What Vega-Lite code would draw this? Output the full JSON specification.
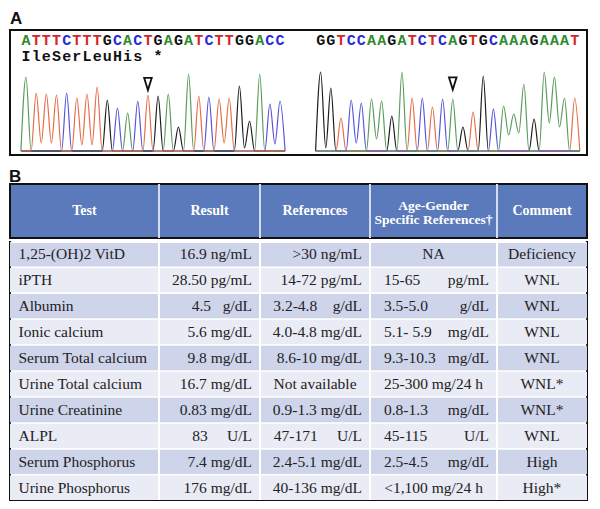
{
  "$schema": "https://vega.github.io/schema/vega-lite/v6.json",
  "background": "white",
  "padding": {"left": 9, "top": 9, "right": 12, "bottom": 4},
  "config": {
    "view": {"stroke": null},
    "title": {"font": "Liberation Sans", "fontWeight": "bold", "fontSize": 17, "anchor": "start", "color": "#111111", "offset": -2}
  },
  "datasets": {
    "traces": [
      {"s":"L","ch":"A","pos":-0.5,"h":0},{"s":"L","ch":"A","pos":0,"h":74},{"s":"L","ch":"A","pos":0.5,"h":0},{"s":"L","ch":"A","pos":9.5,"h":0},{"s":"L","ch":"A","pos":10,"h":38},{"s":"L","ch":"A","pos":10.5,"h":0},{"s":"L","ch":"A","pos":13.5,"h":0},{"s":"L","ch":"A","pos":14,"h":57},{"s":"L","ch":"A","pos":14.5,"h":0},{"s":"L","ch":"A","pos":15.5,"h":0},{"s":"L","ch":"A","pos":16,"h":77},{"s":"L","ch":"A","pos":16.5,"h":0},{"s":"L","ch":"A","pos":22.5,"h":0},{"s":"L","ch":"A","pos":23,"h":77},{"s":"L","ch":"A","pos":23.5,"h":0},{"s":"L","ch":"A","pos":25.5,"h":0},
      {"s":"L","ch":"C","pos":-0.5,"h":0},{"s":"L","ch":"C","pos":3.5,"h":0},{"s":"L","ch":"C","pos":4,"h":58},{"s":"L","ch":"C","pos":4.5,"h":0},{"s":"L","ch":"C","pos":8.5,"h":0},{"s":"L","ch":"C","pos":9,"h":43},{"s":"L","ch":"C","pos":9.5,"h":0},{"s":"L","ch":"C","pos":10.5,"h":0},{"s":"L","ch":"C","pos":11,"h":50},{"s":"L","ch":"C","pos":11.5,"h":0},{"s":"L","ch":"C","pos":17.5,"h":0},{"s":"L","ch":"C","pos":18,"h":54},{"s":"L","ch":"C","pos":18.5,"h":0},{"s":"L","ch":"C","pos":23.5,"h":0},{"s":"L","ch":"C","pos":24,"h":47},{"s":"L","ch":"C","pos":24.5,"h":7},{"s":"L","ch":"C","pos":25,"h":50},{"s":"L","ch":"C","pos":25.5,"h":0},
      {"s":"L","ch":"G","pos":-0.5,"h":0},{"s":"L","ch":"G","pos":7.5,"h":0},{"s":"L","ch":"G","pos":8,"h":51},{"s":"L","ch":"G","pos":8.5,"h":0},{"s":"L","ch":"G","pos":12.5,"h":0},{"s":"L","ch":"G","pos":13,"h":55},{"s":"L","ch":"G","pos":13.5,"h":0},{"s":"L","ch":"G","pos":14.5,"h":0},{"s":"L","ch":"G","pos":15,"h":24},{"s":"L","ch":"G","pos":15.5,"h":0},{"s":"L","ch":"G","pos":20.5,"h":0},{"s":"L","ch":"G","pos":21,"h":65},{"s":"L","ch":"G","pos":21.5,"h":3},{"s":"L","ch":"G","pos":22,"h":30},{"s":"L","ch":"G","pos":22.5,"h":0},{"s":"L","ch":"G","pos":25.5,"h":0},
      {"s":"L","ch":"T","pos":-0.5,"h":0},{"s":"L","ch":"T","pos":0.5,"h":0},{"s":"L","ch":"T","pos":1,"h":58},{"s":"L","ch":"T","pos":1.5,"h":8},{"s":"L","ch":"T","pos":2,"h":57},{"s":"L","ch":"T","pos":2.5,"h":8},{"s":"L","ch":"T","pos":3,"h":56},{"s":"L","ch":"T","pos":3.5,"h":0},{"s":"L","ch":"T","pos":4.5,"h":0},{"s":"L","ch":"T","pos":5,"h":53},{"s":"L","ch":"T","pos":5.5,"h":6},{"s":"L","ch":"T","pos":6,"h":57},{"s":"L","ch":"T","pos":6.5,"h":6},{"s":"L","ch":"T","pos":7,"h":64},{"s":"L","ch":"T","pos":7.5,"h":0},{"s":"L","ch":"T","pos":11.5,"h":0},{"s":"L","ch":"T","pos":12,"h":56},{"s":"L","ch":"T","pos":12.5,"h":0},{"s":"L","ch":"T","pos":16.5,"h":0},{"s":"L","ch":"T","pos":17,"h":55},{"s":"L","ch":"T","pos":17.5,"h":0},{"s":"L","ch":"T","pos":18.5,"h":0},{"s":"L","ch":"T","pos":19,"h":52},{"s":"L","ch":"T","pos":19.5,"h":8},{"s":"L","ch":"T","pos":20,"h":53},{"s":"L","ch":"T","pos":20.5,"h":0},{"s":"L","ch":"T","pos":25.5,"h":0},
      {"s":"R","ch":"G","pos":28.5,"h":0},{"s":"R","ch":"G","pos":29,"h":79},{"s":"R","ch":"G","pos":29.5,"h":3},{"s":"R","ch":"G","pos":30,"h":63},{"s":"R","ch":"G","pos":30.5,"h":0},{"s":"R","ch":"G","pos":35.5,"h":0},{"s":"R","ch":"G","pos":36,"h":35},{"s":"R","ch":"G","pos":36.5,"h":0},{"s":"R","ch":"G","pos":42.5,"h":0},{"s":"R","ch":"G","pos":43,"h":24},{"s":"R","ch":"G","pos":43.5,"h":0},{"s":"R","ch":"G","pos":44.5,"h":0},{"s":"R","ch":"G","pos":45,"h":75},{"s":"R","ch":"G","pos":45.5,"h":0},{"s":"R","ch":"G","pos":49.5,"h":0},{"s":"R","ch":"G","pos":50,"h":32},{"s":"R","ch":"G","pos":50.5,"h":0},{"s":"R","ch":"G","pos":54.5,"h":0},
      {"s":"R","ch":"T","pos":28.5,"h":0},{"s":"R","ch":"T","pos":30.5,"h":0},{"s":"R","ch":"T","pos":31,"h":33},{"s":"R","ch":"T","pos":31.5,"h":0},{"s":"R","ch":"T","pos":37.5,"h":0},{"s":"R","ch":"T","pos":38,"h":53},{"s":"R","ch":"T","pos":38.5,"h":0},{"s":"R","ch":"T","pos":39.5,"h":0},{"s":"R","ch":"T","pos":40,"h":44},{"s":"R","ch":"T","pos":40.5,"h":0},{"s":"R","ch":"T","pos":43.5,"h":0},{"s":"R","ch":"T","pos":44,"h":39},{"s":"R","ch":"T","pos":44.5,"h":0},{"s":"R","ch":"T","pos":53.5,"h":0},{"s":"R","ch":"T","pos":54,"h":53},{"s":"R","ch":"T","pos":54.5,"h":0},
      {"s":"R","ch":"C","pos":28.5,"h":0},{"s":"R","ch":"C","pos":31.5,"h":0},{"s":"R","ch":"C","pos":32,"h":51},{"s":"R","ch":"C","pos":32.5,"h":8},{"s":"R","ch":"C","pos":33,"h":48},{"s":"R","ch":"C","pos":33.5,"h":0},{"s":"R","ch":"C","pos":38.5,"h":0},{"s":"R","ch":"C","pos":39,"h":53},{"s":"R","ch":"C","pos":39.5,"h":0},{"s":"R","ch":"C","pos":40.5,"h":0},{"s":"R","ch":"C","pos":41,"h":52},{"s":"R","ch":"C","pos":41.5,"h":0},{"s":"R","ch":"C","pos":45.5,"h":0},{"s":"R","ch":"C","pos":46,"h":42},{"s":"R","ch":"C","pos":46.5,"h":0},{"s":"R","ch":"C","pos":54.5,"h":0},
      {"s":"R","ch":"A","pos":28.5,"h":0},{"s":"R","ch":"A","pos":33.5,"h":0},{"s":"R","ch":"A","pos":34,"h":52},{"s":"R","ch":"A","pos":34.5,"h":12},{"s":"R","ch":"A","pos":35,"h":50},{"s":"R","ch":"A","pos":35.5,"h":0},{"s":"R","ch":"A","pos":36.5,"h":0},{"s":"R","ch":"A","pos":37,"h":79},{"s":"R","ch":"A","pos":37.5,"h":0},{"s":"R","ch":"A","pos":41.5,"h":0},{"s":"R","ch":"A","pos":42,"h":52},{"s":"R","ch":"A","pos":42.5,"h":0},{"s":"R","ch":"A","pos":46.5,"h":0},{"s":"R","ch":"A","pos":47,"h":45},{"s":"R","ch":"A","pos":47.5,"h":16},{"s":"R","ch":"A","pos":48,"h":37},{"s":"R","ch":"A","pos":48.5,"h":18},{"s":"R","ch":"A","pos":49,"h":67},{"s":"R","ch":"A","pos":49.5,"h":0},{"s":"R","ch":"A","pos":50.5,"h":0},{"s":"R","ch":"A","pos":51,"h":79},{"s":"R","ch":"A","pos":51.5,"h":28},{"s":"R","ch":"A","pos":52,"h":74},{"s":"R","ch":"A","pos":52.5,"h":24},{"s":"R","ch":"A","pos":53,"h":53},{"s":"R","ch":"A","pos":53.5,"h":0},{"s":"R","ch":"A","pos":54.5,"h":0}
    ],
    "seq": [
      {"pos":0,"b":"A"},{"pos":1,"b":"T"},{"pos":2,"b":"T"},{"pos":3,"b":"T"},{"pos":4,"b":"C"},{"pos":5,"b":"T"},{"pos":6,"b":"T"},{"pos":7,"b":"T"},{"pos":8,"b":"G"},{"pos":9,"b":"C"},{"pos":10,"b":"A"},{"pos":11,"b":"C"},{"pos":12,"b":"T"},{"pos":13,"b":"G"},{"pos":14,"b":"A"},{"pos":15,"b":"G"},{"pos":16,"b":"A"},{"pos":17,"b":"T"},{"pos":18,"b":"C"},{"pos":19,"b":"T"},{"pos":20,"b":"T"},{"pos":21,"b":"G"},{"pos":22,"b":"G"},{"pos":23,"b":"A"},{"pos":24,"b":"C"},{"pos":25,"b":"C"},
      {"pos":29,"b":"G"},{"pos":30,"b":"G"},{"pos":31,"b":"T"},{"pos":32,"b":"C"},{"pos":33,"b":"C"},{"pos":34,"b":"A"},{"pos":35,"b":"A"},{"pos":36,"b":"G"},{"pos":37,"b":"A"},{"pos":38,"b":"T"},{"pos":39,"b":"C"},{"pos":40,"b":"T"},{"pos":41,"b":"C"},{"pos":42,"b":"A"},{"pos":43,"b":"G"},{"pos":44,"b":"T"},{"pos":45,"b":"G"},{"pos":46,"b":"C"},{"pos":47,"b":"A"},{"pos":48,"b":"A"},{"pos":49,"b":"A"},{"pos":50,"b":"G"},{"pos":51,"b":"A"},{"pos":52,"b":"A"},{"pos":53,"b":"A"},{"pos":54,"b":"T"}
    ],
    "aa": [
      {"pos":0,"c":"I"},{"pos":1,"c":"l"},{"pos":2,"c":"e"},{"pos":3,"c":"S"},{"pos":4,"c":"e"},{"pos":5,"c":"r"},{"pos":6,"c":"L"},{"pos":7,"c":"e"},{"pos":8,"c":"u"},{"pos":9,"c":"H"},{"pos":10,"c":"i"},{"pos":11,"c":"s"},{"pos":13,"c":"*"}
    ],
    "arrows": [{"pos":12,"h":67},{"pos":42,"h":67.5}],
    "tests": [
      {"test":"1,25-(OH)2 VitD","result":"16.9 ng/mL","ref":">30 ng/mL","refC":"","ageL":"","ageR":"","ageC":"NA","comment":"Deficiency"},
      {"test":"iPTH","result":"28.50 pg/mL","ref":"14-72 pg/mL","refC":"","ageL":"15-65","ageR":"pg/mL","ageC":"","comment":"WNL"},
      {"test":"Albumin","result":"4.5\u00a0\u00a0\u00a0g/dL","ref":"3.2-4.8\u00a0\u00a0\u00a0\u00a0g/dL","refC":"","ageL":"3.5-5.0","ageR":"g/dL","ageC":"","comment":"WNL"},
      {"test":"Ionic calcium","result":"5.6 mg/dL","ref":"4.0-4.8 mg/dL","refC":"","ageL":"5.1- 5.9","ageR":"mg/dL","ageC":"","comment":"WNL"},
      {"test":"Serum Total calcium","result":"9.8 mg/dL","ref":"8.6-10 mg/dL","refC":"","ageL":"9.3-10.3","ageR":"mg/dL","ageC":"","comment":"WNL"},
      {"test":"Urine Total calcium","result":"16.7 mg/dL","ref":"","refC":"Not available","ageL":"","ageR":"","ageC":"25-300 mg/24 h","comment":"WNL*"},
      {"test":"Urine Creatinine","result":"0.83 mg/dL","ref":"0.9-1.3 mg/dL","refC":"","ageL":"0.8-1.3","ageR":"mg/dL","ageC":"","comment":"WNL*"},
      {"test":"ALPL","result":"83\u00a0\u00a0\u00a0\u00a0\u00a0U/L","ref":"47-171\u00a0\u00a0\u00a0\u00a0\u00a0U/L","refC":"","ageL":"45-115","ageR":"U/L","ageC":"","comment":"WNL"},
      {"test":"Serum Phosphorus","result":"7.4 mg/dL","ref":"2.4-5.1 mg/dL","refC":"","ageL":"2.5-4.5","ageR":"mg/dL","ageC":"","comment":"High"},
      {"test":"Urine Phosphorus","result":"176 mg/dL","ref":"40-136 mg/dL","refC":"","ageL":"","ageR":"","ageC":"<1,100 mg/24 h","comment":"High*"}
    ]
  },
  "spacing": 12,
  "vconcat": [
    {
      "title": {"text": "A", "offset": 2},
      "width": 577,
      "height": 125,
      "view": {"stroke": "#111111", "strokeWidth": 2},
      "resolve": {"scale": {"color": "independent"}},
      "layer": [
        {
          "data": {"name": "traces"},
          "mark": {"type": "line", "interpolate": "monotone", "strokeWidth": 1.2},
          "encoding": {
            "x": {"field": "pos", "type": "quantitative", "scale": {"domain": [-1.575, 55.21], "nice": false, "zero": false}, "axis": null},
            "y": {"field": "h", "type": "quantitative", "scale": {"domain": [-4, 121], "nice": false, "zero": false}, "axis": null},
            "color": {"field": "ch", "type": "nominal", "scale": {"domain": ["A", "C", "G", "T"], "range": ["#5a9c5a", "#5656dc", "#1c1c1c", "#e56d48"]}, "legend": null},
            "detail": {"field": "s"}
          }
        },
        {
          "data": {"name": "seq"},
          "mark": {"type": "text", "font": "Liberation Mono", "fontWeight": "bold", "fontSize": 15, "baseline": "middle", "align": "center"},
          "encoding": {
            "x": {"field": "pos", "type": "quantitative"},
            "y": {"datum": 111, "type": "quantitative"},
            "text": {"field": "b"},
            "color": {"field": "b", "type": "nominal", "scale": {"domain": ["A", "C", "G", "T"], "range": ["#2e8a2e", "#2a2ad4", "#111111", "#d22828"]}, "legend": null}
          }
        },
        {
          "data": {"name": "aa"},
          "mark": {"type": "text", "font": "Liberation Mono", "fontWeight": "bold", "fontSize": 15, "baseline": "middle", "align": "center", "color": "#111111"},
          "encoding": {
            "x": {"field": "pos", "type": "quantitative"},
            "y": {"datum": 95, "type": "quantitative"},
            "text": {"field": "c"}
          }
        },
        {
          "data": {"name": "arrows"},
          "mark": {"type": "point", "shape": "M-0.62,-1L0.62,-1L0,1Z", "filled": false, "stroke": "#111111", "strokeWidth": 1.8, "size": 150, "opacity": 1},
          "encoding": {
            "x": {"field": "pos", "type": "quantitative"},
            "y": {"field": "h", "type": "quantitative"}
          }
        }
      ]
    },
    {
      "title": {"text": "B", "offset": -4},
      "spacing": 0,
      "vconcat": [
        {
          "width": 577,
          "height": 54,
          "view": {"fill": "#5b7abb", "stroke": "#111111", "strokeWidth": 2},
          "data": {"values": [{}]},
          "layer": [
            {"mark": {"type": "rule", "stroke": "#d6dcef", "strokeWidth": 2}, "encoding": {"x": {"datum": 25.82, "type": "quantitative", "scale": {"domain": [0, 100], "nice": false, "zero": false}, "axis": null}}},
            {"mark": {"type": "rule", "stroke": "#d6dcef", "strokeWidth": 2}, "encoding": {"x": {"datum": 43.33, "type": "quantitative"}}},
            {"mark": {"type": "rule", "stroke": "#d6dcef", "strokeWidth": 2}, "encoding": {"x": {"datum": 62.39, "type": "quantitative"}}},
            {"mark": {"type": "rule", "stroke": "#d6dcef", "strokeWidth": 2}, "encoding": {"x": {"datum": 84.40, "type": "quantitative"}}},
            {"mark": {"type": "text", "font": "Liberation Serif", "fontWeight": "bold", "fontSize": 14, "color": "white", "align": "center", "baseline": "middle"}, "encoding": {"x": {"datum": 12.91, "type": "quantitative"}, "text": {"value": "Test"}}},
            {"mark": {"type": "text", "font": "Liberation Serif", "fontWeight": "bold", "fontSize": 14, "color": "white", "align": "center", "baseline": "middle"}, "encoding": {"x": {"datum": 34.58, "type": "quantitative"}, "text": {"value": "Result"}}},
            {"mark": {"type": "text", "font": "Liberation Serif", "fontWeight": "bold", "fontSize": 14, "color": "white", "align": "center", "baseline": "middle"}, "encoding": {"x": {"datum": 52.86, "type": "quantitative"}, "text": {"value": "References"}}},
            {"mark": {"type": "text", "font": "Liberation Serif", "fontWeight": "bold", "fontSize": 13.5, "color": "white", "align": "center", "baseline": "middle", "lineBreak": "\n", "lineHeight": 14, "dy": -5}, "encoding": {"x": {"datum": 73.40, "type": "quantitative"}, "text": {"value": "Age-Gender\nSpecific References\u2020"}}},
            {"mark": {"type": "text", "font": "Liberation Serif", "fontWeight": "bold", "fontSize": 14, "color": "white", "align": "center", "baseline": "middle"}, "encoding": {"x": {"datum": 92.20, "type": "quantitative"}, "text": {"value": "Comment"}}}
          ]
        },
        {
          "width": 577,
          "height": 258,
          "view": {"fill": "white", "stroke": "#111111", "strokeWidth": 2},
          "data": {"name": "tests"},
          "layer": [
            {
              "mark": {"type": "rect"},
              "encoding": {
                "x": {"datum": 0, "type": "quantitative", "scale": {"domain": [0, 100], "nice": false, "zero": false}, "axis": null},
                "x2": {"datum": 100},
                "y": {"field": "test", "type": "nominal", "sort": null, "scale": {"paddingInner": 0.06, "paddingOuter": 0}, "axis": null},
                "color": {"field": "test", "type": "nominal", "sort": null, "scale": {"range": ["#ced4ea", "#e9ebf5"]}, "legend": null}
              }
            },
            {"data": {"values": [{}]}, "mark": {"type": "rule", "stroke": "white", "strokeWidth": 2}, "encoding": {"x": {"datum": 25.82, "type": "quantitative"}}},
            {"data": {"values": [{}]}, "mark": {"type": "rule", "stroke": "white", "strokeWidth": 2}, "encoding": {"x": {"datum": 43.33, "type": "quantitative"}}},
            {"data": {"values": [{}]}, "mark": {"type": "rule", "stroke": "white", "strokeWidth": 2}, "encoding": {"x": {"datum": 62.39, "type": "quantitative"}}},
            {"data": {"values": [{}]}, "mark": {"type": "rule", "stroke": "white", "strokeWidth": 2}, "encoding": {"x": {"datum": 84.40, "type": "quantitative"}}},
            {"data": {"values": [{}]}, "mark": {"type": "rule", "stroke": "white", "strokeWidth": 2}, "encoding": {"x": {"datum": 0.2, "type": "quantitative"}, "x2": {"datum": 99.8}, "y": {"value": 0}}},
            {"mark": {"type": "text", "font": "Liberation Serif", "fontSize": 15.5, "color": "#222222", "baseline": "middle", "align": "left", "dx": 8.5}, "encoding": {"x": {"datum": 0, "type": "quantitative"}, "y": {"field": "test", "type": "nominal", "sort": null}, "text": {"field": "test"}}},
            {"mark": {"type": "text", "font": "Liberation Serif", "fontSize": 15.5, "color": "#222222", "baseline": "middle", "align": "right", "dx": -8}, "encoding": {"x": {"datum": 43.33, "type": "quantitative"}, "y": {"field": "test", "type": "nominal", "sort": null}, "text": {"field": "result"}}},
            {"mark": {"type": "text", "font": "Liberation Serif", "fontSize": 15.5, "color": "#222222", "baseline": "middle", "align": "right", "dx": -8}, "encoding": {"x": {"datum": 62.39, "type": "quantitative"}, "y": {"field": "test", "type": "nominal", "sort": null}, "text": {"field": "ref"}}},
            {"mark": {"type": "text", "font": "Liberation Serif", "fontSize": 15.5, "color": "#222222", "baseline": "middle", "align": "center"}, "encoding": {"x": {"datum": 52.86, "type": "quantitative"}, "y": {"field": "test", "type": "nominal", "sort": null}, "text": {"field": "refC"}}},
            {"mark": {"type": "text", "font": "Liberation Serif", "fontSize": 15.5, "color": "#222222", "baseline": "middle", "align": "left", "dx": 14}, "encoding": {"x": {"datum": 62.39, "type": "quantitative"}, "y": {"field": "test", "type": "nominal", "sort": null}, "text": {"field": "ageL"}}},
            {"mark": {"type": "text", "font": "Liberation Serif", "fontSize": 15.5, "color": "#222222", "baseline": "middle", "align": "right", "dx": -8}, "encoding": {"x": {"datum": 84.40, "type": "quantitative"}, "y": {"field": "test", "type": "nominal", "sort": null}, "text": {"field": "ageR"}}},
            {"mark": {"type": "text", "font": "Liberation Serif", "fontSize": 15.5, "color": "#222222", "baseline": "middle", "align": "center"}, "encoding": {"x": {"datum": 73.40, "type": "quantitative"}, "y": {"field": "test", "type": "nominal", "sort": null}, "text": {"field": "ageC"}}},
            {"mark": {"type": "text", "font": "Liberation Serif", "fontSize": 15.5, "color": "#222222", "baseline": "middle", "align": "center"}, "encoding": {"x": {"datum": 92.20, "type": "quantitative"}, "y": {"field": "test", "type": "nominal", "sort": null}, "text": {"field": "comment"}}}
          ]
        }
      ]
    }
  ]
}
